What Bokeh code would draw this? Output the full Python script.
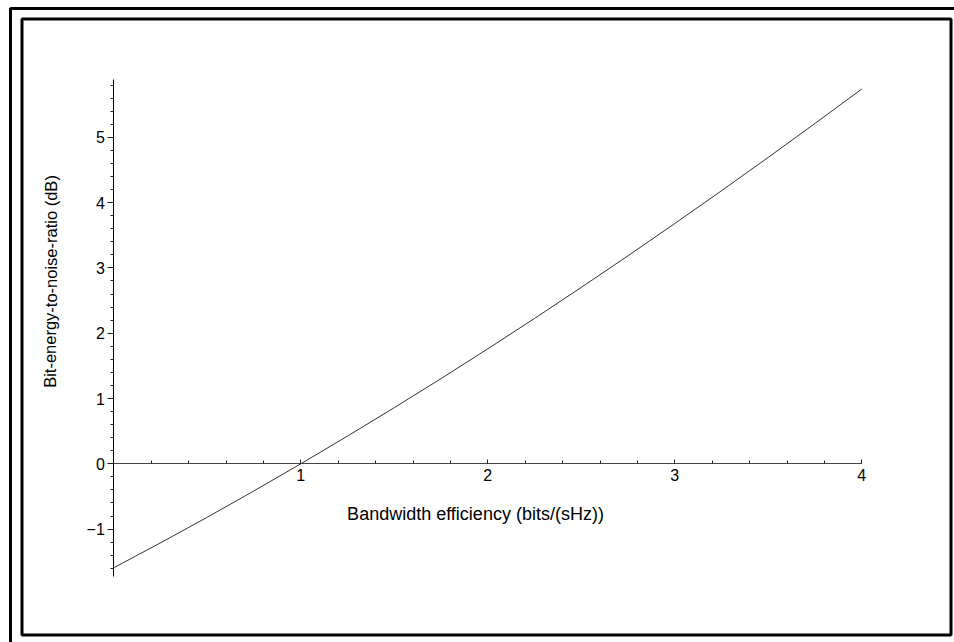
from bokeh.plotting import figure
from bokeh.models import LinearAxis, FixedTicker, Range1d, Label, BoxAnnotation, ColumnDataSource
from bokeh.embed import file_html
from bokeh.resources import INLINE

# ---- data ----
efficiency = [0.0, 0.25, 0.5, 0.75, 1.0, 1.25, 1.5, 1.75, 2.0, 2.25, 2.5, 2.75,
              3.0, 3.25, 3.5, 3.75, 4.0]
ebn0_db = [-1.592, -1.210, -0.818, -0.414, 0.0, 0.425, 0.860, 1.305, 1.761,
           2.226, 2.702, 3.186, 3.680, 4.182, 4.693, 5.213, 5.740]

x_major_ticks = [1, 2, 3, 4]
x_tick_labels = ["1", "2", "3", "4"]
y_major_ticks = [-1, 0, 1, 2, 3, 4, 5]
y_tick_labels = ["\u22121", "0", "1", "2", "3", "4", "5"]
x_minor_ticks = [round(0.2 * k, 1) for k in range(1, 21)]
y_minor_ticks = [round(0.2 * k, 1) for k in range(-8, 30)]

x_title = "Bandwidth efficiency (bits/(sHz))"
y_title = "Bit-energy-to-noise-ratio (dB)"

# ---- layout helpers (page pixels -> data) ----
W, H = 954, 642
X0PIX, SX = 113.3, 187.0
Y0PIX, SY = 463.3, 65.3


def px2x(px):
    return (px - X0PIX) / SX


def px2y(py):
    return (Y0PIX - py) / SY


p = figure(width=W, height=H,
           x_range=Range1d(px2x(0), px2x(W)),
           y_range=Range1d(px2y(H), px2y(0)),
           output_backend="svg", toolbar_location=None,
           x_axis_type=None, y_axis_type=None, min_border=0)
p.outline_line_color = None
p.background_fill_color = "white"
p.border_fill_color = "white"

FONT = "Liberation Sans"

xaxis = LinearAxis(fixed_location=0, bounds=(0, 4),
                   ticker=FixedTicker(ticks=x_major_ticks, minor_ticks=x_minor_ticks),
                   major_label_overrides={t: l for t, l in zip(x_major_ticks, x_tick_labels)})
xaxis.axis_line_color = "#444444"
xaxis.axis_line_width = 1
xaxis.major_tick_in = 4
xaxis.major_tick_out = 0
xaxis.minor_tick_in = 3
xaxis.minor_tick_out = 0
xaxis.major_tick_line_color = "#222222"
xaxis.minor_tick_line_color = "#222222"
xaxis.major_label_standoff = 5
xaxis.major_label_text_font = FONT
xaxis.major_label_text_font_size = "16px"
xaxis.major_label_text_color = "black"

yaxis = LinearAxis(fixed_location=0, bounds=(-1.73, 5.88),
                   ticker=FixedTicker(ticks=y_major_ticks, minor_ticks=y_minor_ticks),
                   major_label_overrides={t: l for t, l in zip(y_major_ticks, y_tick_labels)})
yaxis.axis_line_color = "black"
yaxis.axis_line_width = 1
yaxis.major_tick_in = 0
yaxis.major_tick_out = 6
yaxis.minor_tick_in = 0
yaxis.minor_tick_out = 3
yaxis.major_tick_line_color = "#222222"
yaxis.minor_tick_line_color = "#222222"
yaxis.major_label_standoff = 3
yaxis.major_label_text_font = FONT
yaxis.major_label_text_font_size = "16px"
yaxis.major_label_text_color = "black"

p.add_layout(xaxis, "below")
p.add_layout(yaxis, "left")

src = ColumnDataSource(dict(x=efficiency, y=ebn0_db))
p.line("x", "y", source=src, line_color="#333333", line_width=1)

p.add_layout(Label(x=px2x(475), y=px2y(513), text=x_title,
                   text_font=FONT, text_font_size="18px", text_color="black",
                   text_align="center", text_baseline="middle"))
p.add_layout(Label(x=px2x(50), y=px2y(281), text=y_title, angle=1.5707963,
                   text_font=FONT, text_font_size="16.5px", text_color="black",
                   text_align="center", text_baseline="middle"))

# window frames
p.add_layout(BoxAnnotation(left=px2x(10), right=px2x(990), top=px2y(8), bottom=px2y(700),
                           fill_color=None, fill_alpha=0, line_color="black",
                           line_alpha=1.0, line_width=3))
p.add_layout(BoxAnnotation(left=px2x(21.5), right=px2x(950.5), top=px2y(18.5), bottom=px2y(634.5),
                           fill_color=None, fill_alpha=0, line_color="black",
                           line_alpha=1.0, line_width=3))

open("out.html", "w").write(file_html(p, INLINE))
